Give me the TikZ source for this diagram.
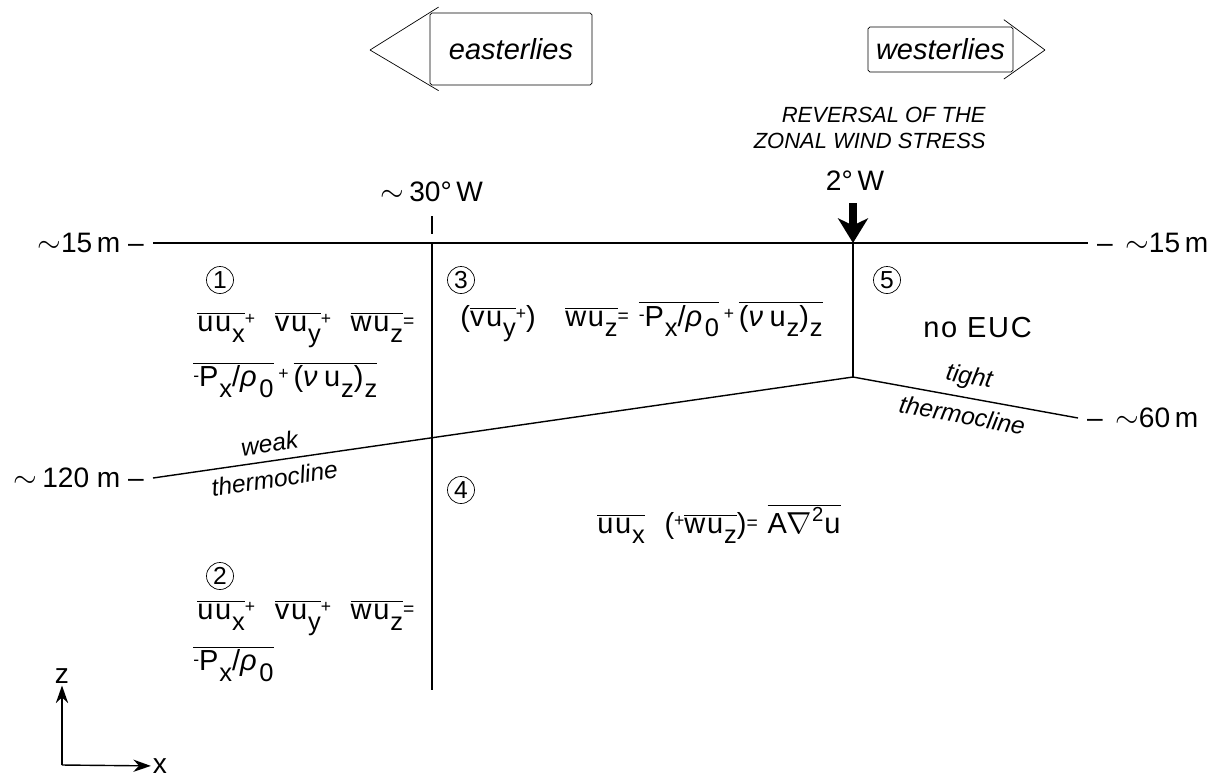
\documentclass[tikz,border=0pt]{standalone}
\usepackage{fontspec}
\setmainfont{Liberation Sans}
\newfontfamily\eqfont{Liberation Sans}[LetterSpace=6]
\usetikzlibrary{arrows.meta,positioning,calc}
\newcommand{\ovl}[1]{$\overline{\mbox{#1}}$}
\newcommand{\sbs}[1]{\kern0.5pt\raisebox{-0.7ex}{\fontsize{14.5}{16}\selectfont #1}}
\newcommand{\pls}{\raisebox{0.45ex}{\fontsize{10}{11}\selectfont +}}
\newcommand{\mns}{\raisebox{0.35ex}{\fontsize{10}{11}\selectfont -}}
\newcommand{\eqs}{\raisebox{0.25ex}{\fontsize{11}{12}\selectfont =}}
\newcommand{\rhoo}{\textit{ρ}}
\newcommand{\nuu}{\textit{ν}}

\tikzset{
  lbl/.style={font=\fontsize{16}{19}\selectfont, inner sep=1pt},
  eqn/.style={font=\eqfont\fontsize{16.5}{19}\selectfont, anchor=west, inner sep=0pt},
  region/.style={draw, circle, minimum size=0.54cm, inner sep=0pt, font=\fontsize{14}{16}\selectfont},
  windbox/.style={draw, rounded corners=1pt, inner sep=2pt, font=\fontsize{16.5}{19}\selectfont\itshape},
  note/.style={font=\fontsize{12.5}{15}\selectfont\itshape, align=right, inner sep=0pt},
  slab/.style={font=\fontsize{14}{16}\selectfont\itshape, sloped, inner sep=4.5pt},
  bound/.style={line width=0.8pt},
}

\begin{document}
\begin{tikzpicture}[x=0.02cm, y=-0.02cm, >=Stealth]
  \useasboundingbox (0,0) rectangle (1211,779);

  % wind arrows on top
  \node[windbox, minimum width=3.24cm, minimum height=1.44cm] (east) at (511,49) {easterlies};
  \coordinate (etip) at (370,50);
  \draw (etip) -- ($(etip)!1.15!(east.north west)$);
  \draw (etip) -- ($(etip)!1.15!(east.south west)$);

  \node[windbox, minimum width=2.9cm, minimum height=0.9cm] (west) at (940.5,49.5) {westerlies};
  \coordinate (wtip) at (1045,50);
  \draw (wtip) -- ($(wtip)!1.3!(west.north east)$);
  \draw (wtip) -- ($(wtip)!1.3!(west.south east)$);

  % reversal of the wind stress
  \node[note, anchor=east] (rev) at (986,128) {REVERSAL OF THE\\ZONAL WIND STRESS};
  \node[lbl] (lab2) at (855,181) {2°\,W};
  \node[lbl] (lab30) at (432,192) {$\sim$\,30°\,W};

  % surface
  \coordinate (sl) at (153,243);
  \coordinate (sr) at (1088,243);
  \draw[bound] (sl) -- (sr);
  \node[lbl, anchor=east] (s15l) at ([xshift=-4pt]sl) {$\sim$15\,m --};
  \node[lbl, anchor=west] (s15r) at ([xshift=4pt]sr) {-- \,$\sim$15\,m};

  % meridians
  \coordinate (w30tick) at (432,216);
  \coordinate (w30tickb) at (432,234);
  \coordinate (w30top) at (432,243);
  \coordinate (w30bot) at (432,690);
  \draw[bound] (w30tick) -- (w30tickb);
  \draw[bound] (w30top) -- (w30bot);

  \coordinate (w2top) at (853,243);
  \coordinate (jn) at (853,377);
  \coordinate (stress) at (853,203);
  \draw[bound] (w2top) -- (jn);
  \draw[line width=4pt, -{Stealth[length=14pt, width=17pt, inset=4pt]}] (stress) -- (w2top);

  % thermocline
  \coordinate (tl) at (153,478);
  \coordinate (tr) at (1078,418);
  \draw[bound] (tl) -- (jn)
    node[slab, pos=0.17, above] {weak}
    node[slab, pos=0.17, below] {thermocline};
  \draw[bound] (jn) -- (tr)
    node[slab, pos=0.5, above] {tight}
    node[slab, pos=0.5, below] {thermocline};
  \node[lbl, anchor=east] (d120) at ([xshift=-4pt]tl) {$\sim$\,120 m --};
  \node[lbl, anchor=west] (d60) at ([xshift=4pt]tr) {-- \,$\sim$60\,m};

  % regions
  \node[region] (r1) at (220,280) {1};
  \node[region] (r3) at (461,280) {3};
  \node[region] (r5) at (887,280) {5};
  \node[region] (r4) at (461,490) {4};
  \node[region] (r2) at (220,576) {2};

  \node[eqn] (eq1a) at (197,330) {\ovl{uu\sbs{x}}\pls\ \ \ovl{vu\sbs{y}}\pls\ \ \ovl{wu\sbs{z}}\eqs};
  \node[eqn] (eq1b) at (193,380) {\ovl{\mns P\sbs{x}/\rhoo\sbs{0}}\,\pls\,\ovl{(\nuu\,u\sbs{z})\sbs{z}}};
  \node[eqn] (eq3) at (460,322) {(\ovl{vu\sbs{y}}\pls)\ \ \ \ovl{wu\sbs{z}}\eqs\ \ovl{\mns P\sbs{x}/\rhoo\sbs{0}}\,\pls\,\ovl{(\nuu\,u\sbs{z})\sbs{z}}};
  \node[eqn] (noeuc) at (923,328) {no EUC};
  \node[eqn] (eq4) at (597,524) {\ovl{uu\sbs{x}}\ \ (\pls\ovl{wu\sbs{z}})\eqs\ \ovl{A$\nabla$\textsuperscript{2}u}};
  \node[eqn] (eq2a) at (197,618) {\ovl{uu\sbs{x}}\pls\ \ \ovl{vu\sbs{y}}\pls\ \ \ovl{wu\sbs{z}}\eqs};
  \node[eqn] (eq2b) at (193,664) {\ovl{\mns P\sbs{x}/\rhoo\sbs{0}}};

  % axes
  \coordinate (orig) at (62,765);
  \node[lbl] (zlab) at (62,676) {z};
  \node[lbl] (xlab) at (160,766) {x};
  \draw[bound, -{Stealth[length=10pt, width=7pt]}] (orig) -- (zlab);
  \draw[bound, -{Stealth[length=10pt, width=7pt]}] (orig) -- (xlab);
\end{tikzpicture}
\end{document}
